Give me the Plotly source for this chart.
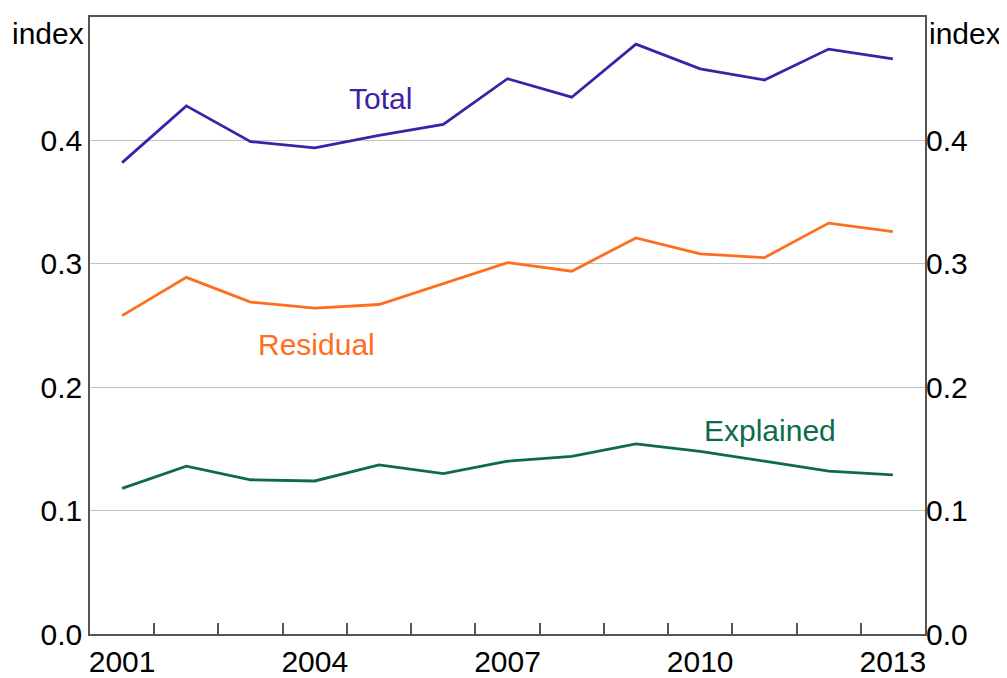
import plotly.graph_objects as go

years = list(range(2001, 2014))
total = [0.382, 0.428, 0.399, 0.394, 0.404, 0.413, 0.450, 0.435, 0.478, 0.458, 0.449, 0.474, 0.466]
residual = [0.258, 0.289, 0.269, 0.264, 0.267, 0.284, 0.301, 0.294, 0.321, 0.308, 0.305, 0.333, 0.326]
explained = [0.118, 0.136, 0.125, 0.124, 0.137, 0.130, 0.140, 0.144, 0.154, 0.148, 0.140, 0.132, 0.129]

x_labels = [2001, 2004, 2007, 2010, 2013]
y_ticks = [0.0, 0.1, 0.2, 0.3, 0.4]

c_total = "#3a23a8"
c_resid = "#ff6d1f"
c_expl = "#0d6b4b"
FONT = "Liberation Sans, Arial, sans-serif"
FS = 30

fig = go.Figure()
fig.add_trace(go.Scatter(x=years, y=total, mode="lines", line=dict(color=c_total, width=2.8), showlegend=False))
fig.add_trace(go.Scatter(x=years, y=residual, mode="lines", line=dict(color=c_resid, width=2.8), showlegend=False))
fig.add_trace(go.Scatter(x=years, y=explained, mode="lines", line=dict(color=c_expl, width=2.8), showlegend=False))
# invisible trace to anchor the right-hand axis
fig.add_trace(go.Scatter(x=years, y=explained, mode="lines", line=dict(color="rgba(0,0,0,0)", width=0),
                         yaxis="y2", showlegend=False, hoverinfo="skip"))

# the page body has an 8px margin, so the figure is sized to fit the 1007x678 window
fig.update_layout(
    width=999, height=670,
    margin=dict(l=82, r=82, t=9, b=44, autoexpand=False),
    paper_bgcolor="white", plot_bgcolor="white",
    font=dict(family=FONT, size=FS, color="black"),
    xaxis=dict(range=[2000.5, 2013.5], tickvals=x_labels, ticktext=[str(v) for v in x_labels],
               ticks="", showgrid=False, zeroline=False, automargin=False, ticklabelstandoff=0,
               showline=True, linecolor="#555555", linewidth=1.5, mirror=True,
               minor=dict(tickvals=[y + 0.5 for y in years[:-1]], ticks="inside", ticklen=11,
                          tickcolor="#555555", tickwidth=1.5, showgrid=False)),
    yaxis=dict(range=[0, 0.5], tickvals=y_ticks, ticktext=[f"{v:.1f}" for v in y_ticks],
               ticks="", showgrid=True, gridcolor="#c4c4c4", gridwidth=1, zeroline=False, automargin=False,
               showline=True, linecolor="#555555", linewidth=1.5, mirror=True),
    yaxis2=dict(range=[0, 0.5], tickvals=y_ticks, ticktext=[f"{v:.1f}" for v in y_ticks], automargin=False,
                overlaying="y", side="right", ticks="", showgrid=False, zeroline=False, showline=False),
)

annos = [
    dict(x=0, y=1, xref="paper", yref="paper", text="index", xanchor="right", yanchor="top",
         xshift=-4, yshift=2, showarrow=False),
    dict(x=1, y=1, xref="paper", yref="paper", text="index", xanchor="left", yanchor="top",
         xshift=2, yshift=2, showarrow=False),
    dict(x=2005.02, y=0.434, text="Total", font=dict(color=c_total), showarrow=False),
    dict(x=2004.02, y=0.235, text="Residual", font=dict(color=c_resid), showarrow=False),
    dict(x=2011.08, y=0.165, text="Explained", font=dict(color=c_expl), showarrow=False),
]
for a in annos:
    fig.add_annotation(**a)

fig.write_html("out.html")
